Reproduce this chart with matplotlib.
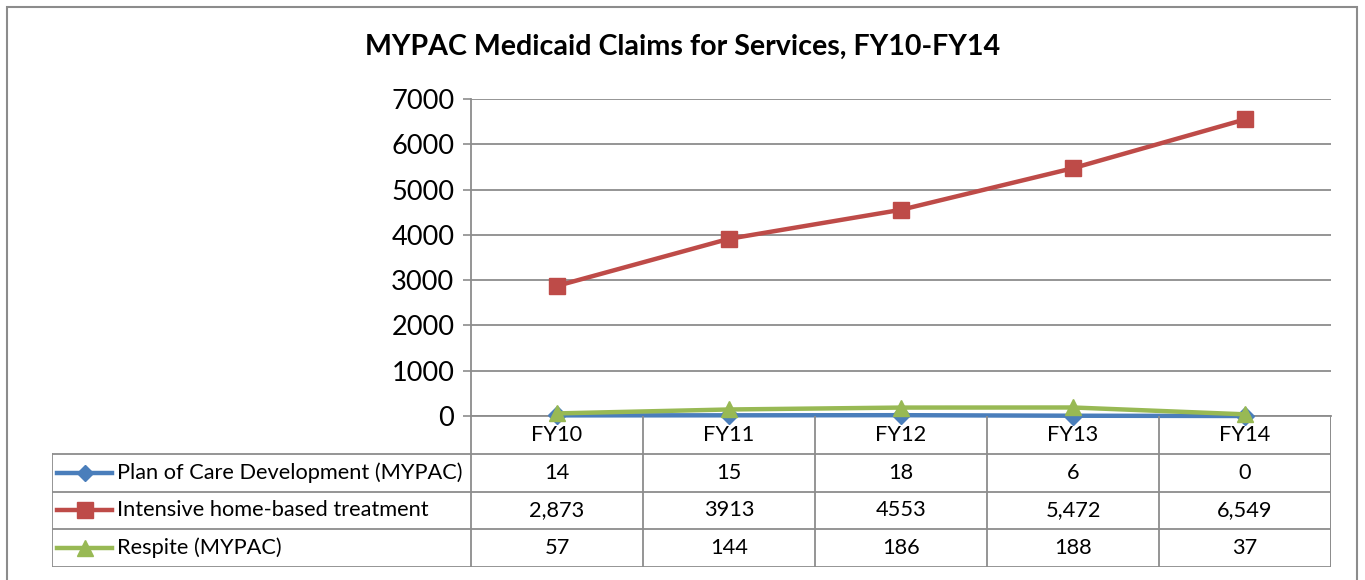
import matplotlib
matplotlib.use("Agg")
import matplotlib.pyplot as plt
from matplotlib.patches import Rectangle

plt.rcParams['font.family'] = ['Lato', 'DejaVu Sans']

# data
years = ['FY10', 'FY11', 'FY12', 'FY13', 'FY14']
plan_of_care = [14, 15, 18, 6, 0]
intensive_home = [2873, 3913, 4553, 5472, 6549]
respite = [57, 144, 186, 188, 37]
plan_labels = ['14', '15', '18', '6', '0']
intensive_labels = ['2,873', '3913', '4553', '5,472', '6,549']
respite_labels = ['57', '144', '186', '188', '37']

series = [
    ('Plan of Care Development (MYPAC)', plan_of_care, plan_labels, '#4A7EBB', 'D', 9),
    ('Intensive home-based treatment', intensive_home, intensive_labels, '#BE4B48', 's', 12),
    ('Respite (MYPAC)', respite, respite_labels, '#98B954', '^', 12),
]

W, H = 1365, 580
fig = plt.figure(figsize=(W / 100, H / 100), dpi=100)
grid_c = '#8c8c8c'

# outer chart border
fig.patches.append(Rectangle((7 / W, -0.05), (1357 - 7) / W, 1.05 - 7 / H,
                             transform=fig.transFigure, fill=False,
                             edgecolor=grid_c, lw=1.5))

fig.text(683 / W, 1 - 47 / H,
         'MYPAC Medicaid Claims for Services, FY10-FY14',
         ha='center', va='center', fontsize=20.6, fontweight='bold')

ax = fig.add_axes([471 / W, 1 - 416 / H, (1331 - 471) / W, (416 - 99) / H])
x = [i + 0.5 for i in range(len(years))]
for name, vals, labs, col, mk, ms in series:
    ax.plot(x, vals, color=col, lw=3.2, marker=mk, markersize=ms,
            markeredgecolor=col, zorder=3, clip_on=False)
ax.set_xlim(0, len(years))
ax.set_ylim(0, 7000)
ax.set_yticks(range(0, 7001, 1000))
ax.tick_params(axis='y', labelsize=19.5, length=6, color=grid_c, width=1.2, pad=6)
ax.set_xticks([])
ax.grid(axis='y', color=grid_c, lw=1.3)
for s in ['top', 'right']:
    ax.spines[s].set_visible(False)
ax.spines['left'].set_color(grid_c)
ax.spines['left'].set_linewidth(1.3)
ax.spines['bottom'].set_color(grid_c)
ax.spines['bottom'].set_linewidth(1.3)
ax.set_axisbelow(True)

# data table below
tax = fig.add_axes([52 / W, 1 - 567 / H, (1331 - 52) / W, (567 - 416) / H])
lead = (471 - 52) / 172
n = len(years)
tax.set_xlim(-lead, n)
tax.set_ylim(0, 4)
tax.axis('off')
lw = 1.3
fs = 15.7
# header row: column separators and labels
for i in range(n + 1):
    tax.plot([i, i], [0, 4], color=grid_c, lw=lw)
for i, yr in enumerate(years):
    tax.text(i + 0.5, 3.5, yr, ha='center', va='center', fontsize=fs)
# body rows
for r in range(4):
    tax.plot([-lead, n], [r, r], color=grid_c, lw=lw)
tax.plot([-lead, -lead], [0, 3], color=grid_c, lw=lw)
tax.plot([n, n], [0, 4], color=grid_c, lw=lw)
for k, (name, vals, labs, col, mk, ms) in enumerate(series):
    yc = 2.5 - k
    tax.plot([-lead + 0.03, -lead + 0.35], [yc, yc], color=col, lw=3.2)
    tax.plot([-lead + 0.19], [yc], color=col, marker=mk, markersize=ms - 1,
             markeredgecolor=col)
    tax.text(-lead + 0.38, yc, name, ha='left', va='center', fontsize=fs)
    for i, lab in enumerate(labs):
        tax.text(i + 0.5, yc, lab, ha='center', va='center', fontsize=fs)

fig.savefig('out.png', dpi=100)
